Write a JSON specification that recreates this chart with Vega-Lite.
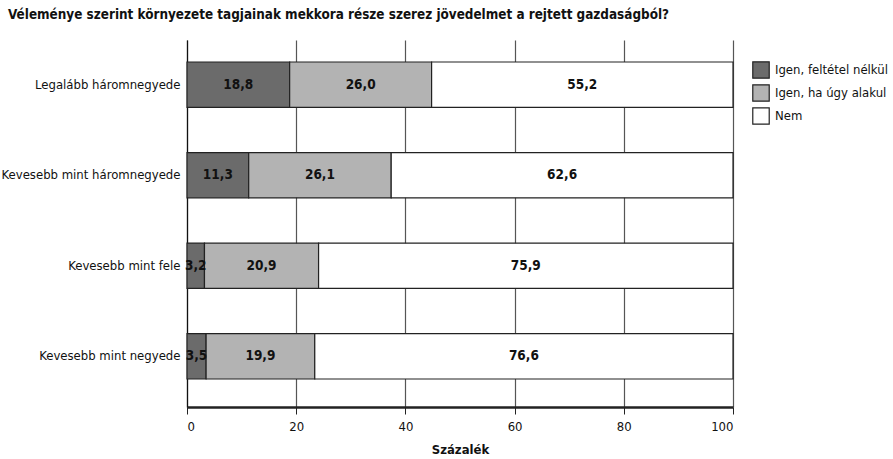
{
  "$schema": "https://vega.github.io/schema/vega-lite/v6.json",
  "autosize": {"type": "none"},
  "width": 546,
  "height": 367,
  "padding": {"left": 187, "top": 40, "right": 160, "bottom": 52},
  "background": "white",
  "config": {
    "font": "DejaVu Sans Condensed",
    "view": {"stroke": null}
  },
  "title": {
    "text": "Véleménye szerint környezete tagjainak mekkora része szerez jövedelmet a rejtett gazdaságból?",
    "anchor": "start",
    "frame": "group",
    "dx": -179,
    "offset": 19,
    "fontSize": 13.4,
    "fontWeight": "bold",
    "color": "#111"
  },
  "data": {
    "values": [
      {"cat": "Legalább háromnegyede", "ans": "Igen, feltétel nélkül", "ord": 1, "value": 18.8, "label": "18,8"},
      {"cat": "Legalább háromnegyede", "ans": "Igen, ha úgy alakul", "ord": 2, "value": 26.0, "label": "26,0"},
      {"cat": "Legalább háromnegyede", "ans": "Nem", "ord": 3, "value": 55.2, "label": "55,2"},
      {"cat": "Kevesebb mint háromnegyede", "ans": "Igen, feltétel nélkül", "ord": 1, "value": 11.3, "label": "11,3"},
      {"cat": "Kevesebb mint háromnegyede", "ans": "Igen, ha úgy alakul", "ord": 2, "value": 26.1, "label": "26,1"},
      {"cat": "Kevesebb mint háromnegyede", "ans": "Nem", "ord": 3, "value": 62.6, "label": "62,6"},
      {"cat": "Kevesebb mint fele", "ans": "Igen, feltétel nélkül", "ord": 1, "value": 3.2, "label": "3,2"},
      {"cat": "Kevesebb mint fele", "ans": "Igen, ha úgy alakul", "ord": 2, "value": 20.9, "label": "20,9"},
      {"cat": "Kevesebb mint fele", "ans": "Nem", "ord": 3, "value": 75.9, "label": "75,9"},
      {"cat": "Kevesebb mint negyede", "ans": "Igen, feltétel nélkül", "ord": 1, "value": 3.5, "label": "3,5"},
      {"cat": "Kevesebb mint negyede", "ans": "Igen, ha úgy alakul", "ord": 2, "value": 19.9, "label": "19,9"},
      {"cat": "Kevesebb mint negyede", "ans": "Nem", "ord": 3, "value": 76.6, "label": "76,6"}
    ]
  },
  "encoding": {
    "y": {
      "field": "cat",
      "type": "nominal",
      "sort": ["Legalább háromnegyede", "Kevesebb mint háromnegyede", "Kevesebb mint fele", "Kevesebb mint negyede"],
      "scale": {"paddingInner": 0.5, "paddingOuter": 0.276, "align": 0.44},
      "axis": {
        "title": null,
        "ticks": false,
        "labelFontSize": 13,
        "labelColor": "#111",
        "labelPadding": 7,
        "domainColor": "#111",
        "domainWidth": 1.2
      }
    },
    "x": {
      "field": "value",
      "type": "quantitative",
      "stack": "zero",
      "scale": {"domain": [0, 100], "nice": false},
      "axis": {
        "title": "Százalék",
        "titleFontSize": 13,
        "titleFontWeight": "bold",
        "titleColor": "#111",
        "titlePadding": 10,
        "values": [0, 20, 40, 60, 80, 100],
        "grid": true,
        "gridColor": "#555",
        "gridWidth": 1.2,
        "domainColor": "#222",
        "domainWidth": 2.5,
        "tickColor": "#222",
        "tickSize": 7,
        "labelFontSize": 13,
        "labelColor": "#111",
        "labelPadding": 6
      }
    },
    "order": {"field": "ord", "type": "quantitative"}
  },
  "layer": [
    {
      "mark": {"type": "bar", "stroke": "#222", "strokeWidth": 1.2},
      "encoding": {
        "color": {
          "field": "ans",
          "type": "nominal",
          "scale": {
            "domain": ["Igen, feltétel nélkül", "Igen, ha úgy alakul", "Nem"],
            "range": ["#6b6b6b", "#b3b3b3", "#ffffff"]
          },
          "legend": {
            "title": null,
            "orient": "none",
            "legendX": 565,
            "legendY": 21,
            "symbolType": "square",
            "symbolSize": 270,
            "symbolStrokeColor": "#222",
            "symbolStrokeWidth": 1.2,
            "labelFontSize": 13,
            "labelColor": "#111",
            "labelOffset": 5,
            "rowPadding": 1
          }
        }
      }
    },
    {
      "mark": {"type": "text", "fontWeight": "bold", "fontSize": 13.5, "color": "#111", "align": "center", "baseline": "middle"},
      "encoding": {
        "x": {"field": "value", "type": "quantitative", "stack": "zero", "bandPosition": 0.5},
        "text": {"field": "label", "type": "nominal"}
      }
    }
  ]
}
